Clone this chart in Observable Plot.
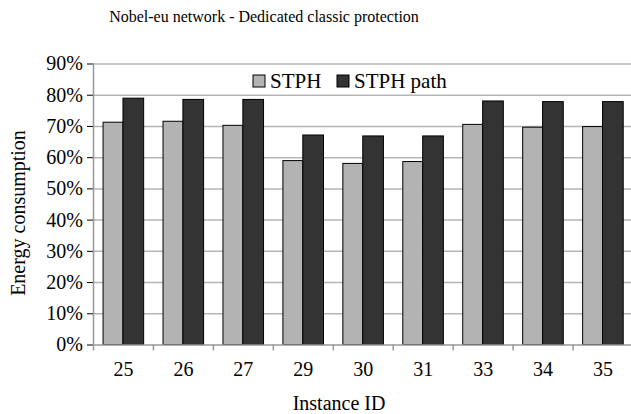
<!DOCTYPE html>
<html><head><meta charset="utf-8">
<script src="https://cdn.jsdelivr.net/npm/d3@7"></script>
<script src="https://cdn.jsdelivr.net/npm/@observablehq/plot@0.6"></script>
<style>body{margin:0;background:#fff}svg{display:block}</style>
</head><body><div id="chart"></div>
<script>
const ids = ["25", "26", "27", "29", "30", "31", "33", "34", "35"];
const stph = [71.2, 71.5, 70.2, 58.9, 58.0, 58.6, 70.5, 69.6, 69.8];
const stphPath = [78.9, 78.5, 78.5, 67.1, 66.8, 66.8, 78.0, 77.8, 77.8];
const seriesNames = ["STPH", "STPH path"];
const seriesColors = ["#b3b3b3", "#333333"];
const yTicks = [0, 0.1, 0.2, 0.3, 0.4, 0.5, 0.6, 0.7, 0.8, 0.9];
const titleText = "Nobel-eu network - Dedicated classic protection";
const xTitle = "Instance ID";
const yTitle = "Energy consumption";

const W = 631, H = 414, mL = 93, mR = -1.5, mT = 63.5, mB = 69.5;
const bw = (W - mL - mR) / ids.length;
const rows = ids.flatMap((id, i) => [
  {id, series: seriesNames[0], value: stph[i] / 100},
  {id, series: seriesNames[1], value: stphPath[i] / 100}
]);
const font = "'Liberation Serif', 'Times New Roman', serif";

const chart = Plot.plot({
  width: W, height: H,
  marginLeft: mL, marginRight: mR, marginTop: mT, marginBottom: mB,
  style: {fontFamily: font, fontSize: "20px", color: "#000", background: "#fff", overflow: "visible"},
  x: {domain: ids, padding: 0, round: false, tickSize: 0, tickPadding: 17, label: null},
  y: {domain: [0, 0.9], ticks: yTicks, tickFormat: d3.format(".0%"), tickSize: 6, tickPadding: 4.5, label: null},
  marks: [
    Plot.ruleY(yTicks.slice(1), {stroke: "#b5b5b5", strokeWidth: 1.5}),
    Plot.barY(rows.filter(d => d.series === seriesNames[0]), {
      x: "id", y: "value", fill: seriesColors[0], stroke: "#000", strokeWidth: 1,
      insetLeft: bw * 0.168, insetRight: bw * 0.5
    }),
    Plot.barY(rows.filter(d => d.series === seriesNames[1]), {
      x: "id", y: "value", fill: seriesColors[1], stroke: "#000", strokeWidth: 1,
      insetLeft: bw * 0.5, insetRight: bw * 0.155
    }),
    Plot.ruleY([0], {stroke: "#999", strokeWidth: 1.5}),
    Plot.ruleX([ids[0]], {dx: -bw / 2, y1: 0, y2: 0.9, stroke: "#999", strokeWidth: 1.5}),
    Plot.ruleX(ids, {dx: -bw / 2, y1: 0, y2: 0, insetBottom: -6, stroke: "#999", strokeWidth: 1.5})
  ]
});

const svg = d3.select(chart);
svg.selectAll("g[aria-label='y-axis'] line, g[aria-label='y-axis'] path").attr("stroke", "#999").attr("stroke-width", 1.5);

// title
svg.append("text").attr("x", 264).attr("y", 22).attr("text-anchor", "middle")
  .style("font-family", font).style("font-size", "16px").attr("fill", "#000").text(titleText);
// axis titles
svg.append("text").attr("x", 339).attr("y", 410).attr("text-anchor", "middle")
  .style("font-family", font).style("font-size", "20px").attr("fill", "#000").text(xTitle);
svg.append("text").attr("transform", "translate(25,213) rotate(-90)").attr("text-anchor", "middle")
  .style("font-family", font).style("font-size", "20px").attr("fill", "#000").text(yTitle);

// legend
const lg = svg.append("g").style("font-family", font).style("font-size", "21px").attr("text-anchor", "start");
const lx = [253, 337];
seriesNames.forEach((name, i) => {
  lg.append("rect").attr("x", lx[i]).attr("y", 75).attr("width", 12).attr("height", 12)
    .attr("fill", seriesColors[i]).attr("stroke", "#000").attr("stroke-width", 1);
  lg.append("text").attr("x", lx[i] + 17).attr("y", 88).attr("text-anchor", "start")
    .style("text-anchor", "start").attr("fill", "#000").text(name);
});

document.getElementById("chart").appendChild(chart);
</script>
</body></html>
